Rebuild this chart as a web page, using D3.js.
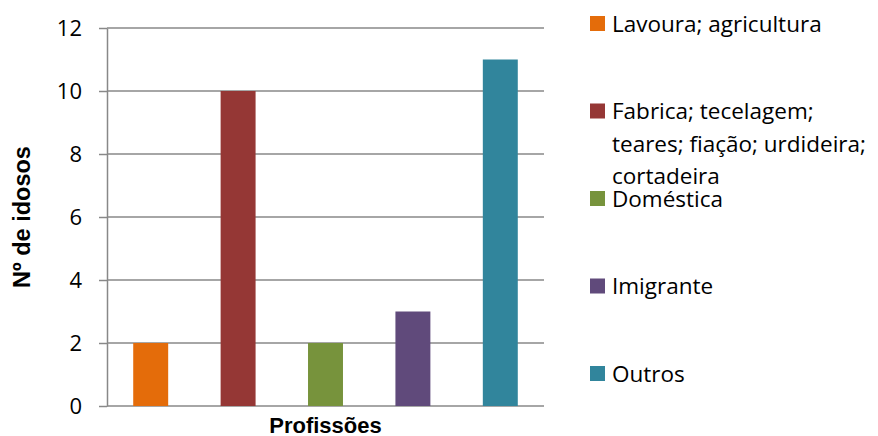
<!DOCTYPE html>
<html>
<head>
<meta charset="utf-8">
<script src="https://cdn.jsdelivr.net/npm/d3@7"></script>
<style>
  body { margin: 0; background: #fff; }
  text { fill: #000; }
</style>
</head>
<body>
<svg id="chart" width="878" height="436"></svg>
<script>
const categorias = ["Lavoura; agricultura", "Fabrica; tecelagem; teares; fiação; urdideira; cortadeira", "Doméstica", "Imigrante", "Outros"]
const legendaLinhas = [["Lavoura; agricultura"], ["Fabrica; tecelagem;", "teares; fiação; urdideira;", "cortadeira"], ["Doméstica"], ["Imigrante"], ["Outros"]]
const valores = [2, 10, 2, 3, 11]
const cores = ["#E46C0A", "#953735", "#77933C", "#604A7B", "#31859C"]
const ticksY = [0, 2, 4, 6, 8, 10, 12]

const svg = d3.select('#chart')
const font = '"Open Sans", sans-serif'

const margem = {left: 107, right: 334, top: 28, bottom: 30}
const width = 878, height = 436

const x = d3.scaleBand()
    .domain(categorias)
    .range([margem.left, width - margem.right])
    .paddingInner(0.6)
    .paddingOuter(0.3)

const y = d3.scaleLinear()
    .domain([0, 12])
    .range([height - margem.bottom, margem.top])

// grade e eixo y
const eixoY = svg.append('g')
    .attr('transform', `translate(${margem.left},0)`)
    .call(d3.axisLeft(y).tickValues(ticksY).tickSize(8).tickPadding(17)
        .tickSizeOuter(0))

eixoY.select('.domain').attr('stroke', '#888').attr('stroke-width', 1.5)
eixoY.selectAll('.tick line').attr('stroke', '#888').attr('stroke-width', 1.5)
eixoY.selectAll('.tick text')
    .attr('font-family', font)
    .attr('font-size', 22)
    .attr('fill', '#000')

svg.append('g').selectAll('line')
    .data(ticksY)
    .join('line')
    .attr('x1', margem.left)
    .attr('x2', width - margem.right)
    .attr('y1', d => y(d))
    .attr('y2', d => y(d))
    .attr('stroke', '#888')
    .attr('stroke-width', 1.5)

svg.append('g').selectAll('rect')
    .data(valores)
    .join('rect')
    .attr('x', (d, i) => x(categorias[i]))
    .attr('width', x.bandwidth())
    .attr('y', d => y(d))
    .attr('height', d => y(0) - y(d))
    .attr('fill', (d, i) => cores[i])

// titulos
svg.append('text')
    .attr('transform', `translate(30,${(margem.top + height - margem.bottom) / 2}) rotate(-90)`)
    .attr('text-anchor', 'middle')
    .attr('font-family', '"Liberation Sans", Arial, sans-serif')
    .attr('font-weight', 'bold')
    .attr('font-size', 23.5)
    .text('Nº de idosos')

svg.append('text')
    .attr('x', (margem.left + width - margem.right) / 2)
    .attr('y', 433)
    .attr('text-anchor', 'middle')
    .attr('font-family', '"Liberation Sans", Arial, sans-serif')
    .attr('font-weight', 'bold')
    .attr('font-size', 22)
    .text('Profissões')

// legenda
const legenda = svg.append('g').selectAll('g')
    .data(legendaLinhas)
    .join('g')
    .attr('transform', (d, i) => `translate(590,${16 + i * 87.5})`)

legenda.append('rect')
    .attr('width', 15)
    .attr('height', 15)
    .attr('fill', (d, i) => cores[i])

legenda.append('text')
    .attr('font-family', font)
    .attr('font-size', 22.5)
    .selectAll('tspan')
    .data(d => d)
    .join('tspan')
    .attr('x', 22)
    .attr('y', (d, j) => 15.5 + j * 32.5)
    .text(d => d)
</script>
</body>
</html>
